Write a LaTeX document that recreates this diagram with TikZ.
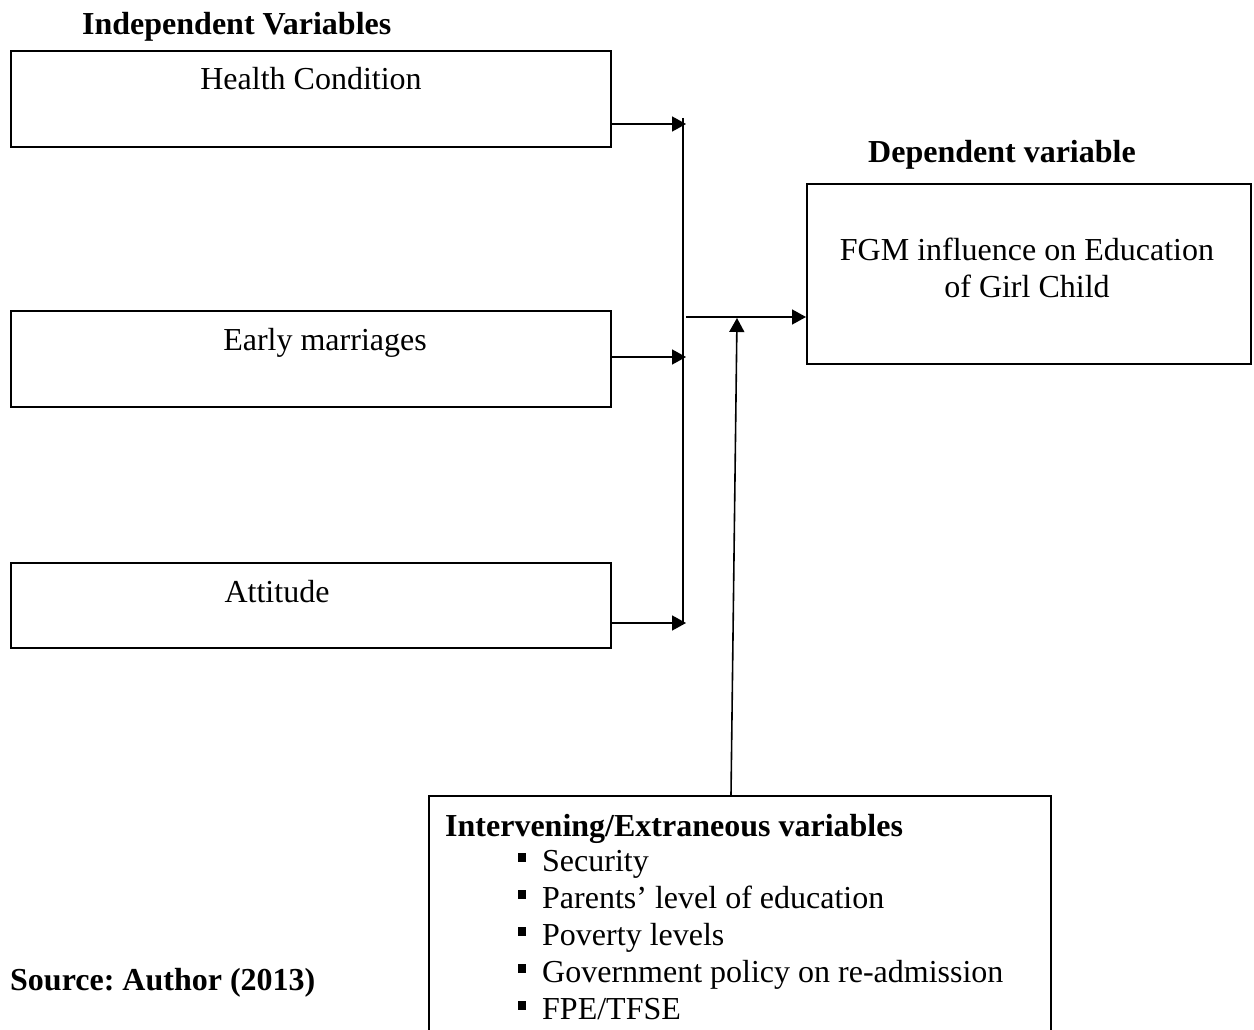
\documentclass[tikz,border=0pt]{standalone}
\usepackage{fontspec}
\setmainfont{Liberation Serif}
\usetikzlibrary{arrows.meta}
\frenchspacing
\begin{document}
\begin{tikzpicture}[x=1pt,y=-1pt,
  box/.style={draw,line width=1.6pt,rectangle,inner sep=0pt,anchor=north west},
  txt/.style={inner sep=0pt,font=\fontsize{32}{38}\selectfont},
  btxt/.style={inner sep=0pt,font=\fontsize{32}{38}\selectfont\bfseries},
  conn/.style={line width=1.6pt,-{Triangle[length=14pt,width=15pt]}},
  plain/.style={line width=1.6pt}]
\clip (0,0) rectangle (1254,1030);
\fill[white] (0,0) rectangle (1254,1030);
% boxes
\node[box,minimum width=600pt,minimum height=96pt] (hc) at (10,50) {};
\node[box,minimum width=600pt,minimum height=96pt] (em) at (10,310) {};
\node[box,minimum width=600pt,minimum height=85pt] (at) at (10,562) {};
\node[box,minimum width=444pt,minimum height=180pt] (fgm) at (806,183) {};
\node[box,minimum width=622pt,minimum height=260pt] (iv) at (428,795) {};
% texts
\node[btxt,anchor=base west] (indep) at (82,35) {Independent Variables};
\node[btxt,anchor=base] (dep) at (1002,163) {Dependent variable};
\node[txt,anchor=base] (hct) at (311,90) {Health Condition};
\node[txt,anchor=base] (emt) at (325,350) {Early marriages};
\node[txt,anchor=base] (att) at (277,602) {Attitude};
\node[txt,anchor=base] (fgm1) at (1027,260) {FGM influence on Education};
\node[txt,anchor=base] (fgm2) at (1027,297) {of Girl Child};
\node[btxt,anchor=base west] (src) at (10,990) {Source: Author (2013)};
\node[btxt,anchor=base west] (ivt) at (445,836) {Intervening/Extraneous variables};
\foreach \t [count=\i] in {Security,Parents’ level of education,Poverty levels,Government policy on re-admission,FPE/TFSE}{
  \node[txt,anchor=base west] (it\i) at (542,834+37*\i) {\t};
  \fill (518,834+37*\i-18) rectangle (526,834+37*\i-9);
}
% connectors
\coordinate (jtop) at (683,118);
\coordinate (jbot) at (683,623);
\coordinate (jhc) at (686,124);
\coordinate (jem) at (686,357);
\coordinate (jat) at (686,623);
\coordinate (mstart) at (686,317);
\coordinate (mtip) at (737,318);
\coordinate (ivtop) at (731,795);
\draw[plain] (jtop) -- (jbot);
\draw[conn] (hc.east |- jhc) -- (jhc);
\draw[conn] (em.east |- jem) -- (jem);
\draw[conn] (at.east |- jat) -- (jat);
\draw[conn] (mstart) -- (fgm.west |- mstart);
\draw[conn] (ivtop) -- (mtip);
\end{tikzpicture}
\end{document}
